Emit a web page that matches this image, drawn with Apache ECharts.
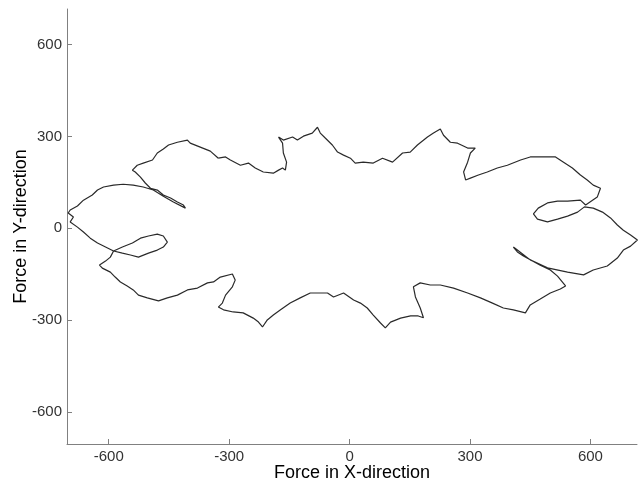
<!DOCTYPE html>
<html>
<head>
<meta charset="utf-8">
<script src="https://cdn.jsdelivr.net/npm/echarts@6/dist/echarts.min.js"></script>
<style>
html,body{margin:0;padding:0;background:#fff;}
#c{width:644px;height:486px;}
</style>
</head>
<body>
<div id="c"></div>
<script>
// Traced force trajectory (X, Y) in order
const forceX = [
-327,-309,-297,-272,-252,-235,-215,-190,-177,-167,-160,-157,-165,-167,-177,-165,-142,-130,-115,-93,-80,-73,-60,-43,-30,-15,2,14,34,59,82,107,132,151,169,194,209,226,234,251,269,294,313,301,294,284,289,301,321,343,368,393,426,450,475,493,513,533,555,575,592,607,625,617,588,
575,543,518,493,470,458,468,493,518,543,568,585,
607,630,650,667,682,700,717,700,682,667,642,607,583,543,493,450,418,408,418,433,475,500,518,538,525,500,475,450,438,408,383,356,326,294,259,226,201,176,159,164,176,184,171,152,127,102,89,77,59,44,27,10,-15,-40,-55,-73,-98,-123,-148,-172,-190,-205,-217,-227,-240,-265,-290,-314,-327,-317,-309,-292,-285,-292,-322,-339,-354,-379,-404,-429,-454,-476,-504,-526,-539,-554,-571,-584,-596,-616,-623,-608,-596,-588,
-566,-541,-521,-501,-479,-464,-454,-464,-479,-501,-526,-546,-566,-588,
-603,-628,-646,-663,-678,-696,-688,-701,-696,-678,-663,-641,-628,-613,-588,-564,-539,-514,-489,-464,-439,-409,-414,-429,-446,-464,-479,-496,-509,-521,-534,-541,-529,-514,-491,-479,-464,-451,-429,-404,-397,-372,-347,-327
];
const forceY = [
229,233,223,206,213,197,184,180,190,197,190,216,246,278,298,288,298,288,301,311,330,311,294,272,249,239,229,213,216,213,229,216,246,249,272,298,311,324,304,281,278,262,262,246,216,184,158,164,174,184,197,206,223,233,233,233,233,216,197,174,158,141,131,102,76,
92,89,89,83,66,47,30,21,30,40,53,70,
66,53,34,11,-6,-22,-38,-58,-71,-97,-123,-136,-152,-143,-129,-103,-71,-61,-77,-90,-120,-136,-156,-188,-198,-211,-231,-250,-276,-266,-260,-244,-227,-211,-195,-185,-185,-178,-191,-224,-260,-292,-286,-286,-293,-306,-325,-309,-283,-260,-244,-234,-211,-224,-211,-211,-211,-227,-244,-266,-283,-299,-322,-306,-293,-276,-273,-266,-257,-244,-218,-191,-169,-149,-159,-175,-178,-195,-201,-218,-227,-237,-227,-218,-201,-188,-175,-159,-143,-130,-120,-107,-94,-74,
-61,-48,-32,-25,-19,-25,-45,-61,-71,-81,-94,-87,-81,-74,
-64,-48,-32,-12,4,21,37,50,60,73,92,109,125,135,141,144,141,135,125,105,86,66,76,86,99,109,125,131,148,167,184,190,206,213,223,246,259,272,281,288,278,265,252,229
];
const tickValues = [-600, -300, 0, 300, 600];
const xTitle = 'Force in X-direction';
const yTitle = 'Force in Y-direction';

const pts = forceX.map((x, i) => [x, forceY[i]]);
const chart = echarts.init(document.getElementById('c'), null, {renderer: 'canvas'});
const axisCommon = {
  type: 'value',
  min: -704,
  max: 716,
  nameLocation: 'middle',
  nameMoveOverlap: false,
  nameTextStyle: {fontFamily: 'Liberation Sans, Arial, sans-serif', fontSize: 18, color: '#000'},
  axisLine: {show: true, onZero: false, lineStyle: {color: '#808080', width: 1}},
  axisTick: {show: true, inside: true, length: 5, customValues: tickValues, lineStyle: {color: '#808080'}},
  axisLabel: {show: true, customValues: tickValues, fontFamily: 'Liberation Sans, Arial, sans-serif', fontSize: 15, color: '#333', margin: 5},
  splitLine: {show: false}
};
chart.setOption({
  animation: false,
  backgroundColor: '#fff',
  grid: {left: 67, right: 7, top: 9, bottom: 42, containLabel: false, outerBoundsMode: 'none'},
  xAxis: Object.assign({}, axisCommon, {name: xTitle, nameGap: 20}),
  yAxis: Object.assign({}, axisCommon, {name: yTitle, nameGap: 37}),
  series: [{
    type: 'line',
    data: pts,
    showSymbol: false,
    symbol: 'none',
    smooth: false,
    lineStyle: {color: '#2a2a2a', width: 1.2}
  }]
});
</script>
</body>
</html>
